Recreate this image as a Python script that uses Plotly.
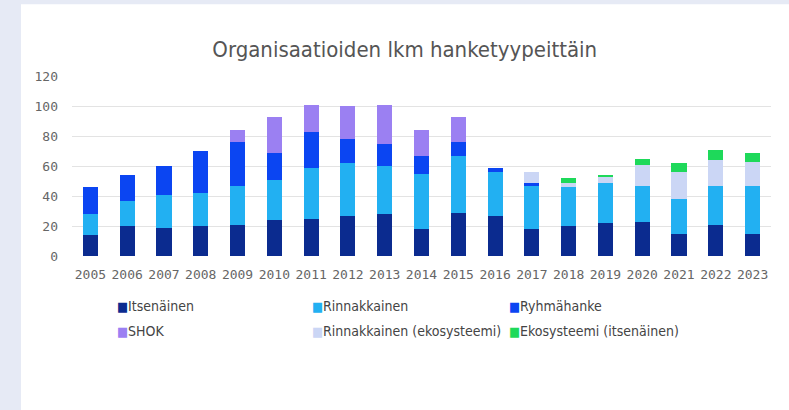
import plotly.graph_objects as go

# Data
years = [str(y) for y in range(2005, 2024)]
itsenainen = [14, 20, 19, 20, 21, 24, 25, 27, 28, 18, 29, 27, 18, 20, 22, 23, 15, 21, 15]
rinnakkainen = [14, 17, 22, 22, 26, 27, 34, 35, 32, 37, 38, 29, 29, 26, 27, 24, 23, 26, 32]
ryhmahanke = [18, 17, 19, 28, 29, 18, 24, 16, 15, 12, 9, 3, 2, 0, 0, 0, 0, 0, 0]
shok = [0, 0, 0, 0, 8, 24, 18, 22, 26, 17, 17, 0, 0, 0, 0, 0, 0, 0, 0]
rinn_eko = [0, 0, 0, 0, 0, 0, 0, 0, 0, 0, 0, 0, 7, 3, 4, 14, 18, 17, 16]
eko_its = [0, 0, 0, 0, 0, 0, 0, 0, 0, 0, 0, 0, 0, 3, 1, 4, 6, 7, 6]
y_ticks = [0, 20, 40, 60, 80, 100, 120]

series = [
    ("Itsenäinen", itsenainen, "#0b2b8f"),
    ("Rinnakkainen", rinnakkainen, "#22b0f2"),
    ("Ryhmähanke", ryhmahanke, "#0b45f2"),
    ("SHOK", shok, "#9b80f2"),
    ("Rinnakkainen (ekosysteemi)", rinn_eko, "#cbd6f5"),
    ("Ekosysteemi (itsenäinen)", eko_its, "#1ed95a"),
]

cond = "DejaVu Sans Condensed, Roboto, sans-serif"
mono = "DejaVu Sans Mono, monospace"

fig = go.Figure()
for name, vals, color in series:
    fig.add_trace(go.Bar(x=years, y=vals, name=name, marker_color=color,
                         marker_line_width=0, showlegend=False))

# legend as a 3x2 grid of small squares + labels under the plot
leg_x = [0.0615, 0.3405, 0.6222]
leg_y = [-0.275, -0.419]
for i, (name, vals, color) in enumerate(series):
    fig.add_annotation(
        xref="paper", yref="paper", x=leg_x[i % 3], y=leg_y[i // 3],
        xanchor="left", yanchor="middle", showarrow=False,
        text=f"<span style='color:{color};font-size:13px'>■</span>{name}",
        font=dict(family=cond, size=14, color="#444"))

fig.update_layout(
    width=789, height=410,
    barmode="stack", bargap=0.59,
    paper_bgcolor="#e6eaf5", plot_bgcolor="white",
    margin=dict(l=72, r=18, t=76, b=154, autoexpand=False),
    title=dict(text="Organisaatioiden lkm hanketyypeittäin", x=0.513, xanchor="center",
               y=0.880, yanchor="middle", font=dict(family=cond, size=22, color="#555")),
    shapes=[dict(type="rect", xref="paper", yref="paper", x0=-0.073, x1=1.1,
                 y0=-1.0, y1=1.398, fillcolor="white", line_width=0, layer="below")],
)
fig.update_xaxes(showgrid=False, automargin=False,
                 tickfont=dict(family=mono, size=13, color="#666"), ticklabelstandoff=9)
fig.update_yaxes(range=[0, 120], tickvals=y_ticks, gridcolor="#e3e3e3", zeroline=False,
                 automargin=False, tickfont=dict(family=mono, size=13, color="#666"),
                 ticklabelstandoff=13)

# drop the default page margin so the figure sits at the window's corner
fig.write_html("out.html", config={"displayModeBar": False},
               post_script="document.body.style.margin='0';")
